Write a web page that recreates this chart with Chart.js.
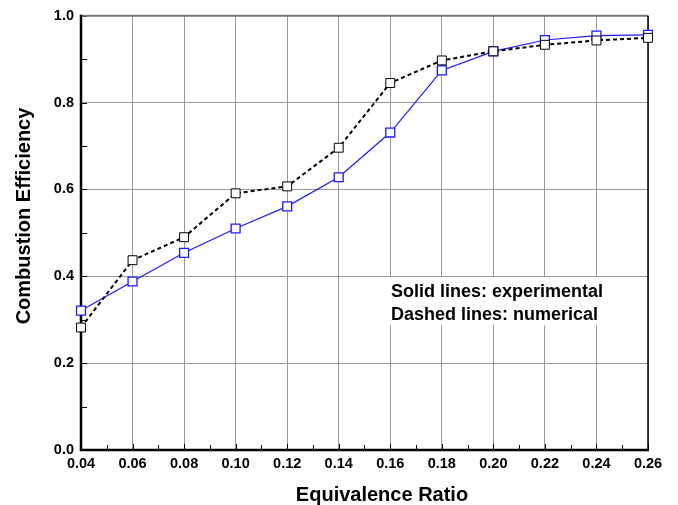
<!DOCTYPE html>
<html>
<head>
<meta charset="utf-8">
<script src="https://cdn.jsdelivr.net/npm/chart.js@4"></script>
<style>
  html, body { margin: 0; padding: 0; background: #fff; }
  #wrap { width: 678px; height: 505px; position: relative; }
</style>
</head>
<body>
<div id="wrap"><canvas id="chart" width="678" height="505"></canvas></div>
<script>
// --- DATA ---
const ratios = [0.04, 0.06, 0.08, 0.10, 0.12, 0.14, 0.16, 0.18, 0.20, 0.22, 0.24, 0.26];
const experimental = [0.321, 0.388, 0.454, 0.510, 0.561, 0.628, 0.731, 0.874, 0.918, 0.944, 0.954, 0.956];
const numerical = [0.282, 0.437, 0.490, 0.591, 0.607, 0.696, 0.845, 0.897, 0.918, 0.933, 0.943, 0.949];
const xTicks = [0.04, 0.06, 0.08, 0.10, 0.12, 0.14, 0.16, 0.18, 0.20, 0.22, 0.24, 0.26];
const yTicks = [0.0, 0.2, 0.4, 0.6, 0.8, 1.0];
const xMinor = [0.05, 0.07, 0.09, 0.11, 0.13, 0.15, 0.17, 0.19, 0.21, 0.23, 0.25];
const yMinor = [0.1, 0.3, 0.5, 0.7, 0.9];
const noteLines = ['Solid lines: experimental', 'Dashed lines: numerical'];
const xTitle = 'Equivalence Ratio';
const yTitle = 'Combustion Efficiency';

const FONT = 'Arial, "Liberation Sans", Helvetica, sans-serif';

// frame, minor ticks, note box and axis titles
const decorations = {
    id: 'decorations',
    beforeDatasetsDraw(chart) {
        const { ctx, chartArea: a, scales: { x, y } } = chart;
        ctx.save();
        // note box hides the grid behind the text
        ctx.fillStyle = '#fff';
        ctx.fillRect(387, y.getPixelForValue(0.4) + 1, 223, 48);

        // minor / major inward ticks
        ctx.strokeStyle = '#000';
        ctx.lineWidth = 1;
        ctx.beginPath();
        xMinor.forEach(v => {
            const px = Math.round(x.getPixelForValue(v)) + 0.5;
            ctx.moveTo(px, a.bottom); ctx.lineTo(px, a.bottom - 5);
        });
        xTicks.forEach(v => {
            const px = Math.round(x.getPixelForValue(v)) + 0.5;
            ctx.moveTo(px, a.bottom); ctx.lineTo(px, a.bottom - 6);
        });
        yMinor.forEach(v => {
            const py = Math.round(y.getPixelForValue(v)) + 0.5;
            ctx.moveTo(a.left, py); ctx.lineTo(a.left + 6, py);
        });
        yTicks.forEach(v => {
            const py = Math.round(y.getPixelForValue(v)) + 0.5;
            ctx.moveTo(a.left, py); ctx.lineTo(a.left + 6, py);
        });
        ctx.stroke();

        // frame
        ctx.strokeStyle = '#777';
        ctx.lineWidth = 2;
        ctx.beginPath();
        ctx.moveTo(a.left, a.top); ctx.lineTo(a.right, a.top);
        ctx.stroke();
        ctx.strokeStyle = '#000';
        ctx.lineWidth = 1.5;
        ctx.beginPath();
        ctx.moveTo(a.right, a.top); ctx.lineTo(a.right, a.bottom);
        ctx.stroke();
        ctx.lineWidth = 2.5;
        ctx.beginPath();
        ctx.moveTo(a.left, a.top - 1); ctx.lineTo(a.left, a.bottom);
        ctx.lineTo(a.right + 1, a.bottom);
        ctx.stroke();

        // note text
        ctx.fillStyle = '#000';
        ctx.font = 'bold 18px ' + FONT;
        ctx.textAlign = 'left';
        ctx.textBaseline = 'alphabetic';
        ctx.fillText(noteLines[0], 391, 297);
        ctx.fillText(noteLines[1], 391, 320);

        // axis titles
        ctx.font = 'bold 20px ' + FONT;
        ctx.textAlign = 'center';
        ctx.textBaseline = 'middle';
        ctx.fillText(xTitle, 382, 495);
        ctx.translate(24, 216);
        ctx.rotate(-Math.PI / 2);
        ctx.fillText(yTitle, 0, 0);
        ctx.restore();
    }
};

new Chart(document.getElementById('chart'), {
    type: 'line',
    data: {
        labels: ratios,
        datasets: [{
            label: 'Numerical',
            data: ratios.map((r, i) => ({ x: r, y: numerical[i] })),
            borderColor: '#000',
            borderWidth: 2,
            borderDash: [4, 3],
            pointStyle: 'rect',
            pointRadius: 6.3,
            pointBorderWidth: 1,
            pointBackgroundColor: '#fff',
            pointBorderColor: '#000',
            clip: false,
            tension: 0
        }, {
            label: 'Experimental',
            data: ratios.map((r, i) => ({ x: r, y: experimental[i] })),
            borderColor: '#1a1aff',
            borderWidth: 1.2,
            pointStyle: 'rect',
            pointRadius: 6.3,
            pointBorderWidth: 1.3,
            pointBackgroundColor: '#fff',
            pointBorderColor: '#1a1aff',
            clip: false,
            tension: 0
        }]
    },
    options: {
        responsive: false,
        animation: false,
        layout: { padding: { left: 0, right: 30, top: 15, bottom: 0 } },
        plugins: { legend: { display: false }, tooltip: { enabled: false } },
        scales: {
            x: {
                type: 'linear',
                min: 0.04,
                max: 0.26,
                afterBuildTicks: s => { s.ticks = xTicks.map(v => ({ value: v })); },
                afterFit: s => { s.height = 55; },
                grid: { color: '#999', lineWidth: 1, drawTicks: false },
                border: { display: false },
                ticks: {
                    padding: 5,
                    color: '#000',
                    font: { family: FONT, size: 14.5, weight: 'bold' },
                    maxRotation: 0,
                    callback: v => v.toFixed(2)
                }
            },
            y: {
                min: 0,
                max: 1,
                afterBuildTicks: s => { s.ticks = yTicks.map(v => ({ value: v })); },
                afterFit: s => { s.width = 81; },
                grid: { color: '#999', lineWidth: 1, drawTicks: false },
                border: { display: false },
                ticks: {
                    padding: 7,
                    color: '#000',
                    font: { family: FONT, size: 14.5, weight: 'bold' },
                    callback: v => v.toFixed(1)
                }
            }
        }
    },
    plugins: [decorations]
});
</script>
</body>
</html>
